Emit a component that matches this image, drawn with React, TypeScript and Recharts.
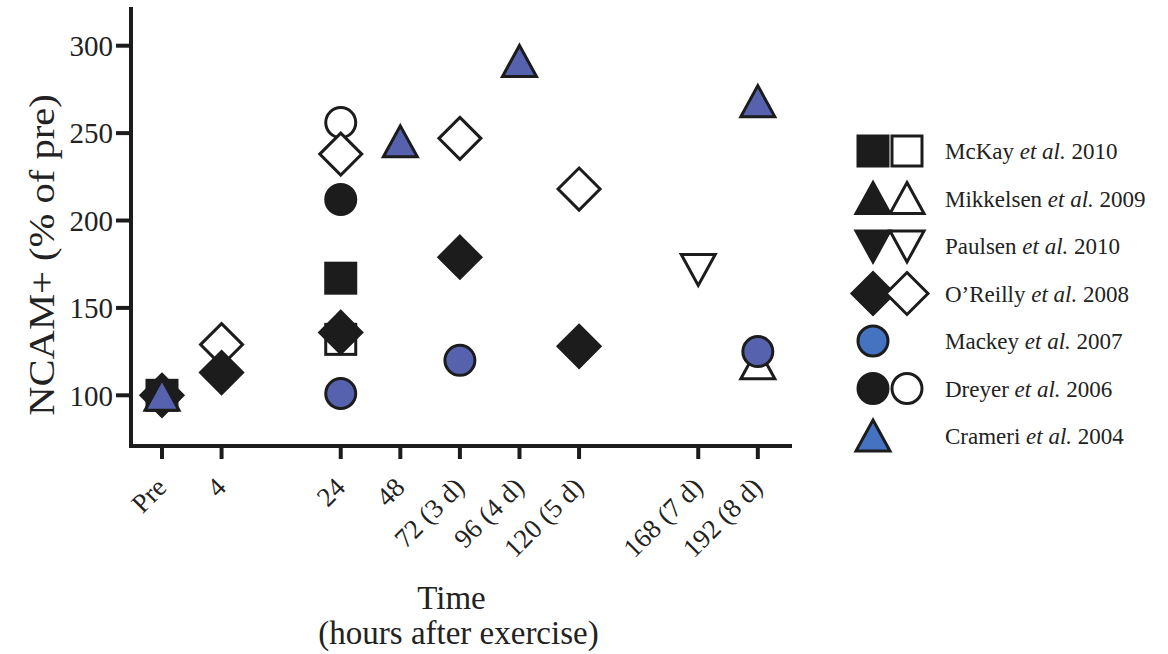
import React from 'react';
import { ScatterChart, Scatter, XAxis, YAxis } from 'recharts';

// time points, in order, and the slot each one takes on the axis
// (the axis leaves a gap between 4 and 24 h and between 120 and 168 h)
const timeLabels = ['Pre', '4', '24', '48', '72 (3 d)', '96 (4 d)', '120 (5 d)', '168 (7 d)', '192 (8 d)'];
const timeSlots = [0, 1, 3, 4, 5, 6, 7, 9, 10];
const yTicks = [100, 150, 200, 250, 300];

// NCAM+ cells, % of pre.  "pre" = filled symbol, "post" = open symbol
const mckayPre: [string, number][] = [['Pre', 100], ['24', 167]];
const mckayPost: [string, number][] = [['24', 132]];
const mikkelsenPost: [string, number][] = [['192 (8 d)', 118]];
const paulsenPost: [string, number][] = [['168 (7 d)', 172]];
const oreillyPre: [string, number][] = [['Pre', 100], ['4', 113], ['24', 136], ['72 (3 d)', 179], ['120 (5 d)', 128]];
const oreillyPost: [string, number][] = [['4', 129], ['24', 238], ['72 (3 d)', 247], ['120 (5 d)', 218]];
const mackey: [string, number][] = [['24', 101], ['72 (3 d)', 120], ['192 (8 d)', 125]];
const dreyerPre: [string, number][] = [['24', 212]];
const dreyerPost: [string, number][] = [['24', 256]];
const crameri: [string, number][] = [['Pre', 100], ['48', 245], ['96 (4 d)', 291], ['192 (8 d)', 268]];

const legendAuthors = ['McKay', 'Mikkelsen', 'Paulsen', 'O\u2019Reilly', 'Mackey', 'Dreyer', 'Crameri'];
const legendYears = ['2010', '2009', '2010', '2008', '2007', '2006', '2004'];

const INK = '#1c1c1c';
const BLUE = '#5662ad';
const LEGEND_BLUE = '#4672c2';
const FONT = "'Liberation Serif', 'Times New Roman', serif";

const toPoints = (rows: [string, number][]) =>
  rows.map(([t, v]) => ({ x: timeSlots[timeLabels.indexOf(t)], y: v }));

type Kind = 'square' | 'circle' | 'diamond' | 'up' | 'down';

function Marker({ cx, cy, kind, fill }: { cx: number; cy: number; kind: Kind; fill: string }) {
  const common = { fill, stroke: INK, strokeWidth: 3 };
  switch (kind) {
    case 'square':
      return <rect x={cx - 15} y={cy - 15} width={30} height={30} {...common} />;
    case 'circle':
      return <circle cx={cx} cy={cy} r={15} {...common} />;
    case 'diamond':
      return <polygon points={`${cx},${cy - 21} ${cx + 21},${cy} ${cx},${cy + 21} ${cx - 21},${cy}`} {...common} />;
    case 'up':
      return <polygon points={`${cx},${cy - 16} ${cx + 17},${cy + 15} ${cx - 17},${cy + 15}`} {...common} />;
    case 'down':
      return <polygon points={`${cx - 17},${cy - 15} ${cx + 17},${cy - 15} ${cx},${cy + 16}`} {...common} />;
  }
}

const shapeOf = (kind: Kind, fill: string) => (props: any) =>
  <Marker cx={props.cx} cy={props.cy} kind={kind} fill={fill} />;

function TimeTick({ x, y, payload }: any) {
  const label = timeLabels[timeSlots.indexOf(payload.value)];
  const ax = x + 6;
  const ay = y + 28;
  return (
    <text x={ax} y={ay} transform={`rotate(-45, ${ax}, ${ay})`} textAnchor="end"
      fontSize={27} fontFamily={FONT} fill="#222">
      {label}
    </text>
  );
}

function XTitle({ viewBox }: any) {
  const mid = viewBox.x + viewBox.width / 2;
  return (
    <g fontFamily={FONT} fontSize={33} fill="#222" textAnchor="middle">
      <text x={mid - 9} y={viewBox.y + 163}>Time</text>
      <text x={mid - 2} y={viewBox.y + 198}>(hours after exercise)</text>
    </g>
  );
}

function YTitle({ viewBox }: any) {
  const x = viewBox.x + 33;
  const y = 255;
  // the label in the figure is drawn a little stretched along its length
  return (
    <text transform={`translate(${x}, ${y}) rotate(-90) scale(1.16, 1)`} textAnchor="middle"
      fontFamily={FONT} fontSize={35} fill="#222">
      NCAM+ (% of pre)
    </text>
  );
}

const legendMarkers: [Kind, string][][] = [
  [['square', INK], ['square', '#fff']],
  [['up', INK], ['up', '#fff']],
  [['down', INK], ['down', '#fff']],
  [['diamond', INK], ['diamond', '#fff']],
  [['circle', LEGEND_BLUE]],
  [['circle', INK], ['circle', '#fff']],
  [['up', LEGEND_BLUE]],
];

function StudyLegend() {
  return (
    <svg width={1168} height={654} style={{ position: 'absolute', left: 0, top: 0, pointerEvents: 'none' }}>
      {legendAuthors.map((name, i) => {
        const cy = 151 + i * 47.5;
        return (
          <g key={name}>
            {legendMarkers[i].map(([kind, fill], j) => (
              <Marker key={j} cx={873 + j * 34} cy={cy} kind={kind} fill={fill} />
            ))}
            <text x={945} y={cy + 8} fontFamily={FONT} fontSize={23} fill="#222">
              {name} <tspan fontStyle="italic">et al.</tspan> {legendYears[i]}
            </text>
          </g>
        );
      })}
    </svg>
  );
}

export default function App() {
  const axisStroke = { stroke: INK, strokeWidth: 4, strokeLinecap: 'square' as const };
  return (
    <div style={{ position: 'absolute', left: 0, top: 0, width: 1168, height: 654, background: '#fff' }}>
      <ScatterChart width={1168} height={654} margin={{ top: 9, right: 378, bottom: 88, left: 21 }}>
        <XAxis
          type="number"
          dataKey="x"
          domain={[-0.52, 10.54]}
          ticks={timeSlots}
          interval={0}
          allowDataOverflow
          height={120}
          tickSize={13}
          axisLine={axisStroke}
          tickLine={{ stroke: INK, strokeWidth: 4 }}
          tick={<TimeTick />}
          label={<XTitle />}
        />
        <YAxis
          type="number"
          dataKey="y"
          domain={[71, 321]}
          ticks={yTicks}
          interval={0}
          allowDataOverflow
          width={110}
          tickSize={15}
          tickMargin={3}
          axisLine={axisStroke}
          tickLine={{ stroke: INK, strokeWidth: 4 }}
          tick={{ fontSize: 29, fontFamily: FONT, fill: '#222' }}
          label={<YTitle />}
        />
        <Scatter data={toPoints(mckayPost)} shape={shapeOf('square', '#fff')} isAnimationActive={false} />
        <Scatter data={toPoints(mikkelsenPost)} shape={shapeOf('up', '#fff')} isAnimationActive={false} />
        <Scatter data={toPoints(paulsenPost)} shape={shapeOf('down', '#fff')} isAnimationActive={false} />
        <Scatter data={toPoints(dreyerPost)} shape={shapeOf('circle', '#fff')} isAnimationActive={false} />
        <Scatter data={toPoints(oreillyPost)} shape={shapeOf('diamond', '#fff')} isAnimationActive={false} />
        <Scatter data={toPoints(mckayPre)} shape={shapeOf('square', INK)} isAnimationActive={false} />
        <Scatter data={toPoints(dreyerPre)} shape={shapeOf('circle', INK)} isAnimationActive={false} />
        <Scatter data={toPoints(oreillyPre)} shape={shapeOf('diamond', INK)} isAnimationActive={false} />
        <Scatter data={toPoints(mackey)} shape={shapeOf('circle', BLUE)} isAnimationActive={false} />
        <Scatter data={toPoints(crameri)} shape={shapeOf('up', BLUE)} isAnimationActive={false} />
      </ScatterChart>
      <StudyLegend />
    </div>
  );
}
